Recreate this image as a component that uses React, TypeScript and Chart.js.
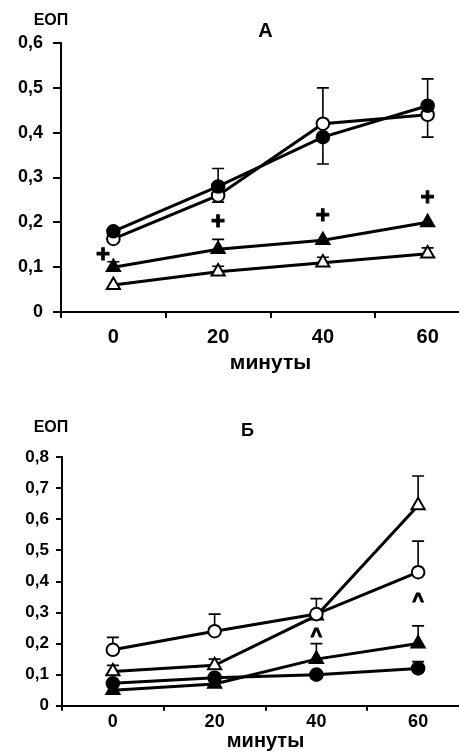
import React, { useEffect, useRef } from 'react';
import { Chart, registerables } from 'chart.js';

Chart.register(...registerables);

// ---------- shared ----------
const minutes = [0, 20, 40, 60];
const xTickLabels = ['0', '20', '40', '60'];
const xAxisTitle = 'минуты';
const yAxisTitle = 'ЕОП';

// ---------- panel А ----------
const titleA = 'А';
const yTicksA = [0, 0.1, 0.2, 0.3, 0.4, 0.5, 0.6];
const yTickLabelsA = ['0', '0,1', '0,2', '0,3', '0,4', '0,5', '0,6'];
const aFilledCircle = [0.18, 0.28, 0.39, 0.46];
const aFilledCircleErr = [0, 0.04, -0.06, 0.06];
const aOpenCircle = [0.163, 0.26, 0.42, 0.44];
const aOpenCircleErr = [0, -0.015, 0.08, -0.05];
const aFilledTriangle = [0.1, 0.14, 0.16, 0.2];
const aFilledTriangleErr = [0.012, 0.022, 0, 0];
const aOpenTriangle = [0.06, 0.09, 0.11, 0.13];
const aOpenTriangleErr = [0, 0.012, 0.012, 0.013];
const aMarkSymbol = '+';
const aMarkX = [-2, 20, 40, 60];
const aMarkY = [0.127, 0.2, 0.214, 0.254];

// ---------- panel Б ----------
const titleB = 'Б';
const yTicksB = [0, 0.1, 0.2, 0.3, 0.4, 0.5, 0.6, 0.7, 0.8];
const yTickLabelsB = ['0', '0,1', '0,2', '0,3', '0,4', '0,5', '0,6', '0,7', '0,8'];
const bOpenCircle = [0.18, 0.24, 0.295, 0.43];
const bOpenCircleErr = [0.04, 0.055, 0, 0.1];
const bOpenTriangle = [0.11, 0.13, 0.29, 0.645];
const bOpenTriangleErr = [0.02, 0.02, 0.055, 0.095];
const bFilledTriangle = [0.05, 0.07, 0.15, 0.2];
const bFilledTriangleErr = [0, 0, 0.05, 0.057];
const bFilledCircle = [0.072, 0.09, 0.1, 0.12];
const bFilledCircleErr = [0, 0, 0, 0.022];
const bMarkSymbol = '^';
const bMarkX = [40, 60];
const bMarkY = [0.222, 0.335];

const FONT = "'Liberation Sans', Arial, sans-serif";

type Series = { values: number[]; errs: number[]; shape: 'circle' | 'triangle'; filled: boolean };

type PanelCfg = {
  width: number;
  height: number;
  title: string;
  titlePos: [number, number];
  yTitlePos: [number, number];
  yMax: number;
  yTicks: number[];
  yTickLabels: string[];
  series: Series[];
  markSymbol: string;
  markX: number[];
  markY: number[];
  markFont: number;
  padding: { left: number; right: number; top: number; bottom: number };
  yWidth: number;
  xHeight: number;
  yFont: number;
  yTickLen: number;
  yPad: number;
  xFont: number;
  xTickLen: number;
  xPad: number;
  xTitleFont: number;
  xTitlePadBottom: number;
  xTitleLineHeight: number;
  titleFont: number;
  yTitleFont: number;
};

const panelA: PanelCfg = {
  width: 490,
  height: 400,
  title: titleA,
  titlePos: [265.5, 31.5],
  yTitlePos: [51, 20.5],
  yMax: 0.6,
  yTicks: yTicksA,
  yTickLabels: yTickLabelsA,
  series: [
    { values: aFilledCircle, errs: aFilledCircleErr, shape: 'circle', filled: true },
    { values: aOpenCircle, errs: aOpenCircleErr, shape: 'circle', filled: false },
    { values: aFilledTriangle, errs: aFilledTriangleErr, shape: 'triangle', filled: true },
    { values: aOpenTriangle, errs: aOpenTriangleErr, shape: 'triangle', filled: false },
  ],
  markSymbol: aMarkSymbol,
  markX: aMarkX,
  markY: aMarkY,
  markFont: 24,
  padding: { left: 0, right: 10, top: 43, bottom: 0 },
  yWidth: 61,
  xHeight: 88,
  yFont: 18,
  yTickLen: 8,
  yPad: 10,
  xFont: 20,
  xTickLen: 6,
  xPad: 7,
  xTitleFont: 21,
  xTitlePadBottom: 24,
  xTitleLineHeight: 1.2,
  titleFont: 20,
  yTitleFont: 16,
};

const panelB: PanelCfg = {
  width: 490,
  height: 352,
  title: titleB,
  titlePos: [247.5, 31],
  yTitlePos: [51, 28],
  yMax: 0.8,
  yTicks: yTicksB,
  yTickLabels: yTickLabelsB,
  series: [
    { values: bOpenCircle, errs: bOpenCircleErr, shape: 'circle', filled: false },
    { values: bOpenTriangle, errs: bOpenTriangleErr, shape: 'triangle', filled: false },
    { values: bFilledTriangle, errs: bFilledTriangleErr, shape: 'triangle', filled: true },
    { values: bFilledCircle, errs: bFilledCircleErr, shape: 'circle', filled: true },
  ],
  markSymbol: bMarkSymbol,
  markX: bMarkX,
  markY: bMarkY,
  markFont: 20,
  padding: { left: 0, right: 21, top: 57.3, bottom: 0 },
  yWidth: 62,
  xHeight: 46.3,
  yFont: 17,
  yTickLen: 6,
  yPad: 7,
  xFont: 18,
  xTickLen: 5,
  xPad: 1,
  xTitleFont: 20,
  xTitlePadBottom: 0,
  xTitleLineHeight: 1.1,
  titleFont: 18,
  yTitleFont: 16,
};

function Panel({ cfg, top }: { cfg: PanelCfg; top: number }) {
  const ref = useRef<HTMLCanvasElement | null>(null);

  useEffect(() => {
    if (!ref.current) return;

    const annotate = {
      id: 'annotate',
      beforeDatasetsDraw(chart: any) {
        const ctx = chart.ctx;
        const xs = chart.scales.x;
        const ys = chart.scales.y;
        ctx.save();
        ctx.strokeStyle = '#000';
        ctx.lineWidth = 1.6;
        cfg.series.forEach((s) => {
          s.values.forEach((v, j) => {
            const e = s.errs[j];
            if (!e) return;
            const px = xs.getPixelForValue(minutes[j]);
            const y0 = ys.getPixelForValue(v);
            const y1 = ys.getPixelForValue(v + e);
            ctx.beginPath();
            ctx.moveTo(px, y0);
            ctx.lineTo(px, y1);
            ctx.moveTo(px - 6, y1);
            ctx.lineTo(px + 6, y1);
            ctx.stroke();
          });
        });
        ctx.restore();
      },
      afterDatasetsDraw(chart: any) {
        const ctx = chart.ctx;
        const xs = chart.scales.x;
        const ys = chart.scales.y;
        ctx.save();
        ctx.fillStyle = '#000';
        ctx.strokeStyle = '#000';
        ctx.lineWidth = 1;
        ctx.textAlign = 'center';
        ctx.textBaseline = 'middle';
        ctx.font = `bold ${cfg.markFont}px ${FONT}`;
        cfg.markX.forEach((mx, k) => {
          const px = xs.getPixelForValue(mx);
          const py = ys.getPixelForValue(cfg.markY[k]);
          ctx.fillText(cfg.markSymbol, px, py);
          ctx.strokeText(cfg.markSymbol, px, py);
        });
        ctx.restore();
      },
      afterDraw(chart: any) {
        const ctx = chart.ctx;
        ctx.save();
        ctx.fillStyle = '#000';
        ctx.textAlign = 'center';
        ctx.textBaseline = 'middle';
        ctx.font = `bold ${cfg.yTitleFont}px ${FONT}`;
        ctx.fillText(yAxisTitle, cfg.yTitlePos[0], cfg.yTitlePos[1]);
        ctx.font = `bold ${cfg.titleFont}px ${FONT}`;
        ctx.fillText(cfg.title, cfg.titlePos[0], cfg.titlePos[1]);
        ctx.restore();
      },
    };

    const datasets = cfg.series.map((s) => ({
      data: s.values.map((v, j) => ({ x: minutes[j], y: v })),
      showLine: true,
      borderColor: '#000',
      borderWidth: 3,
      pointStyle: s.shape,
      pointRadius: s.shape === 'circle' ? 6.3 : 7.6,
      pointBackgroundColor: s.filled ? '#000' : '#fff',
      pointBorderColor: '#000',
      pointBorderWidth: 2,
      fill: false,
      tension: 0,
    }));

    const chart = new Chart(ref.current, {
      type: 'line',
      data: { datasets },
      plugins: [annotate],
      options: {
        animation: false,
        responsive: false,
        devicePixelRatio: 1,
        layout: { padding: cfg.padding },
        plugins: {
          legend: { display: false },
          title: { display: false },
          tooltip: { enabled: false },
        },
        scales: {
          x: {
            type: 'linear',
            min: -10,
            max: 70,
            afterBuildTicks: (scale: any) => {
              scale.ticks = minutes.map((v) => ({ value: v }));
            },
            afterFit: (scale: any) => {
              scale.height = cfg.xHeight;
            },
            ticks: {
              color: '#000',
              font: { family: FONT, size: cfg.xFont, weight: 'bold', lineHeight: 1.2 },
              padding: cfg.xPad,
              maxRotation: 0,
              autoSkip: false,
              callback: (_v: any, i: number) => xTickLabels[i],
            },
            grid: {
              offset: true,
              drawOnChartArea: false,
              drawTicks: true,
              tickLength: cfg.xTickLen,
              color: '#000',
              lineWidth: 2,
            },
            border: { display: true, color: '#000', width: 2 },
            title: {
              display: true,
              text: xAxisTitle,
              color: '#000',
              font: { family: FONT, size: cfg.xTitleFont, weight: 'bold', lineHeight: cfg.xTitleLineHeight },
              padding: { top: 0, bottom: cfg.xTitlePadBottom },
            },
          },
          y: {
            type: 'linear',
            min: 0,
            max: cfg.yMax,
            afterBuildTicks: (scale: any) => {
              scale.ticks = cfg.yTicks.map((v) => ({ value: v }));
            },
            afterFit: (scale: any) => {
              scale.width = cfg.yWidth;
            },
            ticks: {
              color: '#000',
              font: { family: FONT, size: cfg.yFont, weight: 'bold', lineHeight: 1.2 },
              padding: cfg.yPad,
              autoSkip: false,
              callback: (_v: any, i: number) => cfg.yTickLabels[i],
            },
            grid: {
              drawOnChartArea: false,
              drawTicks: true,
              tickLength: cfg.yTickLen,
              color: '#000',
              lineWidth: 2,
            },
            border: { display: true, color: '#000', width: 2 },
          },
        },
      } as any,
    });

    return () => chart.destroy();
  }, [cfg]);

  return (
    <div style={{ position: 'absolute', left: 0, top, width: cfg.width, height: cfg.height }}>
      <canvas
        ref={ref}
        width={cfg.width}
        height={cfg.height}
        style={{ display: 'block', width: cfg.width, height: cfg.height }}
      />
    </div>
  );
}

export default function App() {
  return (
    <div
      style={{
        position: 'absolute',
        left: 0,
        top: 0,
        width: 459,
        height: 752,
        overflow: 'hidden',
        background: '#fff',
      }}
    >
      <Panel cfg={panelA} top={0} />
      <Panel cfg={panelB} top={400} />
    </div>
  );
}
